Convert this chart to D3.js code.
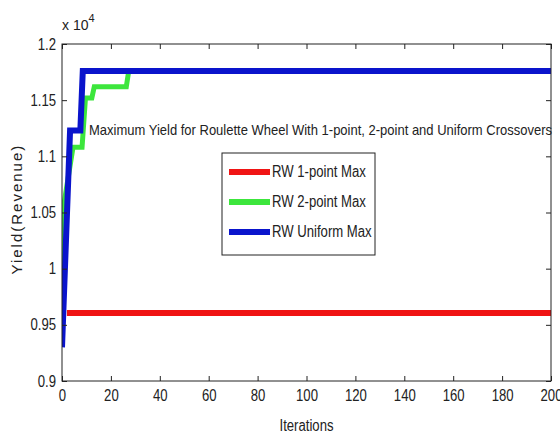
<!DOCTYPE html>
<html>
<head>
<meta charset="utf-8">
<title>Maximum Yield for Roulette Wheel</title>
<script src="https://d3js.org/d3.v7.min.js"></script>
<style>
  body { margin: 0; background: #fff; }
  text { font-family: "Liberation Sans", Arial, sans-serif; fill: #222; }
</style>
</head>
<body>
<script>
  // (iteration, yield)
  const redIter = [2, 200];
  const redYield = [9605, 9605];
  const greenIter = [0, 0.4, 4.5, 8.2, 9.6, 12.2, 13.2, 26.3, 27.3, 200];
  const greenYield = [9550, 10520, 11080, 11080, 11520, 11520, 11620, 11620, 11760, 11760];
  const blueIter = [0, 3.3, 7.5, 8.5, 200];
  const blueYield = [9300, 11230, 11230, 11760, 11760];

  const seriesNames = ["RW 1-point Max", "RW 2-point Max", "RW Uniform Max"];
  const seriesColors = ["#f01414", "#3ce63c", "#0a14cc"];
  const xTicks = [0, 20, 40, 60, 80, 100, 120, 140, 160, 180, 200];
  const yTicks = [9000, 9500, 10000, 10500, 11000, 11500, 12000];
  const yTickLabels = ["0.9", "0.95", "1", "1.05", "1.1", "1.15", "1.2"];
  const title = "Maximum Yield for Roulette Wheel With 1-point, 2-point and Uniform Crossovers";

  const width = 560, height = 442;
  const margin = { left: 62, right: 9, top: 44, bottom: 61 };

  const svg = d3.select("body").append("svg")
      .attr("width", width)
      .attr("height", height);

  const x = d3.scaleLinear().domain([0, 200]).range([margin.left, width - margin.right]);
  const y = d3.scaleLinear().domain([9000, 12000]).range([height - margin.bottom, margin.top]);

  const series = [
    { it: redIter, val: redYield },
    { it: greenIter, val: greenYield },
    { it: blueIter, val: blueYield }
  ].map((s, i) => ({
    name: seriesNames[i],
    color: seriesColors[i],
    points: s.it.map((d, j) => [d, s.val[j]])
  }));

  const line = d3.line().x(d => x(d[0])).y(d => y(d[1]));

  svg.append("clipPath").attr("id", "clip")
    .append("rect")
      .attr("x", margin.left).attr("y", margin.top)
      .attr("width", x(200) - x(0)).attr("height", y(9000) - y(12000));

  const plot = svg.append("g").attr("clip-path", "url(#clip)");
  plot.selectAll("path.series")
    .data(series)
    .enter().append("path")
      .attr("class", "series")
      .attr("fill", "none")
      .attr("stroke", d => d.color)
      .attr("stroke-width", (d, i) => i == 1 ? 5 : 6)
      .attr("stroke-linejoin", "miter")
      .attr("d", d => line(d.points));

  // axes, ticks inside on all four sides
  const tickSize = 5;
  svg.append("g")
      .attr("transform", `translate(0,${y(9000)})`)
      .call(d3.axisBottom(x).tickValues(xTicks).tickSizeInner(-tickSize).tickSizeOuter(0).tickPadding(9))
      .call(g => g.select(".domain").remove());
  svg.append("g")
      .attr("transform", `translate(0,${y(12000)})`)
      .call(d3.axisTop(x).tickValues(xTicks).tickSizeInner(-tickSize).tickSizeOuter(0).tickFormat(""))
      .call(g => g.select(".domain").remove());
  svg.append("g")
      .attr("transform", `translate(${x(0)},0)`)
      .call(d3.axisLeft(y).tickValues(yTicks).tickSizeInner(-tickSize).tickSizeOuter(0).tickPadding(6)
        .tickFormat((d, i) => yTickLabels[i]))
      .call(g => g.select(".domain").remove());
  svg.append("g")
      .attr("transform", `translate(${x(200)},0)`)
      .call(d3.axisRight(y).tickValues(yTicks).tickSizeInner(-tickSize).tickSizeOuter(0).tickFormat(""))
      .call(g => g.select(".domain").remove());

  svg.selectAll(".tick line").attr("stroke", "#222");
  svg.selectAll(".tick text")
      .style("font-family", '"Liberation Sans", Arial, sans-serif')
      .style("font-size", "16px")
      .attr("fill", "#222");

  svg.append("rect")
      .attr("x", x(0)).attr("y", y(12000))
      .attr("width", x(200) - x(0)).attr("height", y(9000) - y(12000))
      .attr("fill", "none").attr("stroke", "#222").attr("stroke-width", 1);

  // exponent
  const ex = svg.append("text").attr("x", 62).attr("y", 30).style("font-size", "14px");
  ex.append("tspan").text("x 10");
  ex.append("tspan").attr("dy", -8).style("font-size", "11px").text("4");

  // axis labels
  svg.append("text")
      .attr("x", x(100)).attr("y", 431)
      .attr("text-anchor", "middle")
      .style("font-size", "16px")
      .text("Iterations");

  // legend
  const legend = svg.append("g").attr("transform", "translate(222,153)");
  legend.append("rect")
      .attr("width", 153).attr("height", 102)
      .attr("fill", "#fff").attr("stroke", "#222").attr("stroke-width", 1);
  const item = legend.selectAll("g.item")
    .data(series)
    .enter().append("g")
      .attr("class", "item")
      .attr("transform", (d, i) => `translate(0,${19 + i * 30})`);
  item.append("line")
      .attr("x1", 7).attr("x2", 48)
      .attr("stroke", d => d.color).attr("stroke-width", 6);
  item.append("text")
      .attr("x", 50).attr("y", 5)
      .style("font-size", "16px")
      .text(d => d.name);

  // the original lettering is narrow: squeeze these texts horizontally
  svg.selectAll("text").each(function() {
    if (!this.textContent || this.querySelector("tspan")) return;
    const len = this.getComputedTextLength();
    d3.select(this).attr("textLength", len * 0.82).attr("lengthAdjust", "spacingAndGlyphs");
  });

  // y label is spaced out in the original
  svg.append("text")
      .attr("transform", `translate(22,${y(10530)}) rotate(-90)`)
      .attr("text-anchor", "middle")
      .style("font-size", "15px")
      .style("letter-spacing", "2px")
      .text("Yield(Revenue)");

  // title sits inside the plot
  svg.append("text")
      .attr("x", 89).attr("y", 135)
      .attr("textLength", 463)
      .attr("lengthAdjust", "spacingAndGlyphs")
      .style("font-size", "15px")
      .text(title);
</script>
</body>
</html>
